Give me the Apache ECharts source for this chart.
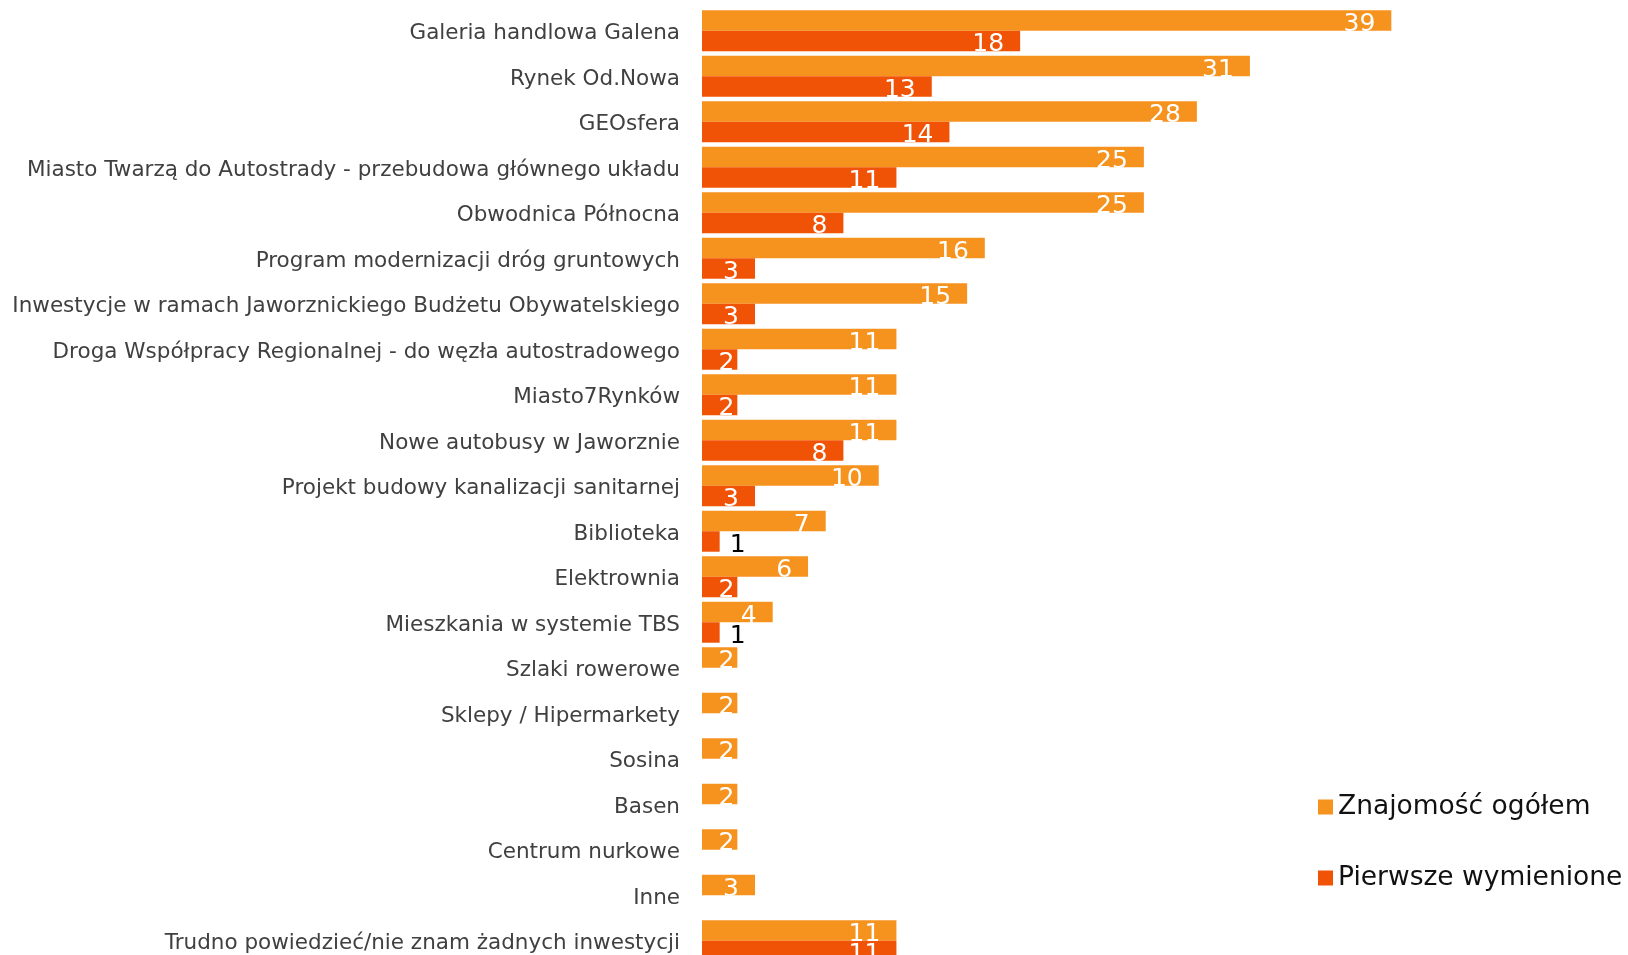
<!DOCTYPE html>
<html>
<head>
<meta charset="utf-8">
<script src="https://cdn.jsdelivr.net/npm/echarts@6/dist/echarts.min.js"></script>
<style>html,body{margin:0;padding:0;background:#fff;}#chart{width:1628px;height:955px;}</style>
</head>
<body>
<div id="chart"></div>
<script>
const categories = [
  "Galeria handlowa Galena",
  "Rynek Od.Nowa",
  "GEOsfera",
  "Miasto Twarzą do Autostrady - przebudowa głównego układu",
  "Obwodnica Północna",
  "Program modernizacji dróg gruntowych",
  "Inwestycje w ramach Jaworznickiego Budżetu Obywatelskiego",
  "Droga Współpracy Regionalnej - do węzła autostradowego",
  "Miasto7Rynków",
  "Nowe autobusy w Jaworznie",
  "Projekt budowy kanalizacji sanitarnej",
  "Biblioteka",
  "Elektrownia",
  "Mieszkania w systemie TBS",
  "Szlaki rowerowe",
  "Sklepy / Hipermarkety",
  "Sosina",
  "Basen",
  "Centrum nurkowe",
  "Inne",
  "Trudno powiedzieć/nie znam żadnych inwestycji"
];
const seriesNames = ["Znajomość ogółem", "Pierwsze wymienione"];
const overall = [39, 31, 28, 25, 25, 16, 15, 11, 11, 11, 10, 7, 6, 4, 2, 2, 2, 2, 2, 3, 11];
const firstMentioned = [18, 13, 14, 11, 8, 3, 3, 2, 2, 8, 3, 1, 2, 1, null, null, null, null, null, null, 11];

const FONT = "DejaVu Sans";
const chart = echarts.init(document.getElementById('chart'), null, {renderer: 'canvas'});

function buildData(arr) {
  return arr.map(v => {
    if (v === null) return '-';
    if (v === 1) return {value: v, label: {position: 'right', color: '#000000', distance: 10}};
    if (v === 2) return {value: v, label: {distance: 3}};
    return v;
  });
}

const valueLabel = {
  show: true,
  position: 'insideRight',
  distance: 16,
  color: '#ffffff',
  fontFamily: FONT,
  fontSize: 25,
  offset: [0, 4]
};

chart.setOption({
  animation: false,
  backgroundColor: '#ffffff',
  grid: {left: 702, top: 8, width: 707, height: 955.5, containLabel: false, outerBoundsMode: 'none'},
  xAxis: {type: 'value', min: 0, max: 40, show: false},
  yAxis: {
    type: 'category',
    data: categories,
    inverse: true,
    axisLine: {show: false},
    axisTick: {show: false},
    splitLine: {show: false},
    axisLabel: {margin: 22, color: '#404040', fontFamily: FONT, fontSize: 21.5, verticalAlign: 'top', lineHeight: 6}
  },
  legend: {
    orient: 'vertical',
    left: 1313,
    top: 787,
    icon: 'rect',
    itemWidth: 15,
    itemHeight: 15,
    itemGap: 41,
    textStyle: {fontFamily: FONT, fontSize: 26.5, color: '#111111', lineHeight: 30},
    data: seriesNames
  },
  series: [
    {
      name: seriesNames[0], type: 'bar', data: buildData(overall),
      itemStyle: {color: '#F6921E'},
      barGap: '0%', barCategoryGap: '10%',
      label: valueLabel
    },
    {
      name: seriesNames[1], type: 'bar', data: buildData(firstMentioned),
      itemStyle: {color: '#F05306'},
      barGap: '0%', barCategoryGap: '10%',
      label: valueLabel
    }
  ]
});
</script>
</body>
</html>
